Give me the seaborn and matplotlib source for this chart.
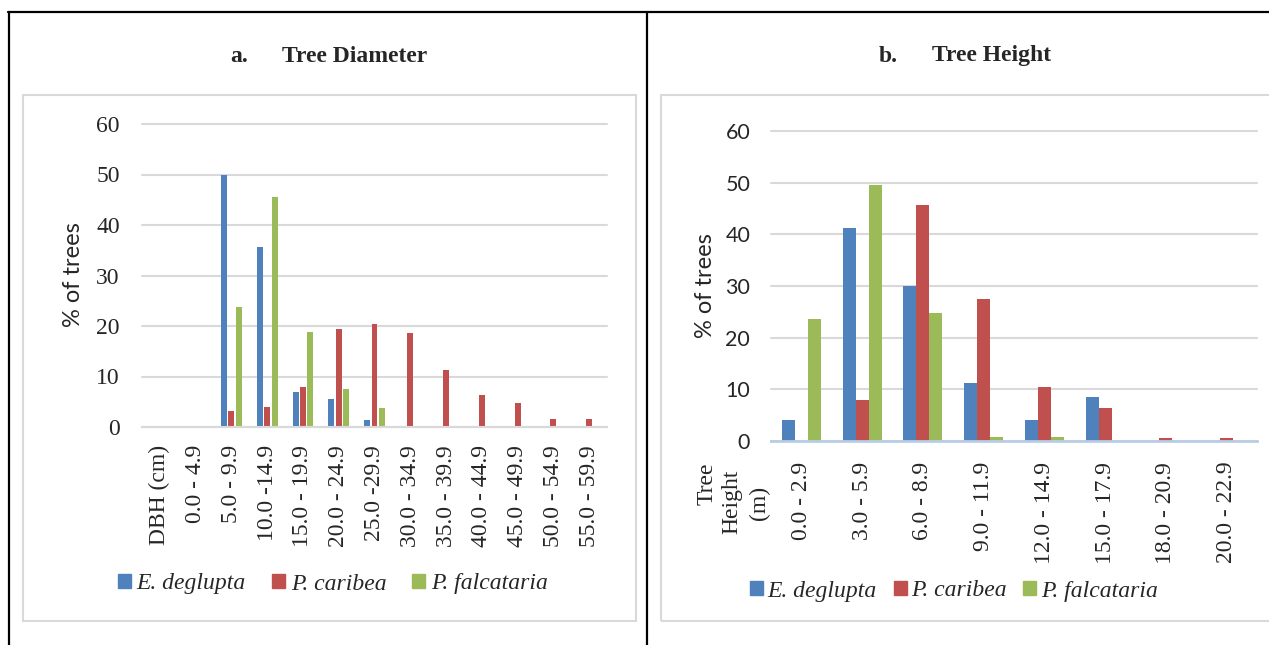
import pandas as pd
import matplotlib.pyplot as plt
import seaborn as sns
from matplotlib.patches import Patch, Rectangle
from matplotlib.lines import Line2D

species = ["E. deglupta", "P. caribea", "P. falcataria"]
colors = ["#4F81BD", "#C0504D", "#9BBB59"]

# a. tree diameter (% of trees per DBH class)
dbh_classes = ["0.0 - 4.9", "5.0 - 9.9", "10.0 -14.9", "15.0 - 19.9", "20.0 - 24.9", "25.0 -29.9",
               "30.0 - 34.9", "35.0 - 39.9", "40.0 - 44.9", "45.0 - 49.9", "50.0 - 54.9", "55.0 - 59.9"]
dbh_deglupta = [0, 50.0, 35.6, 7.0, 5.6, 1.3, 0, 0, 0, 0, 0, 0]
dbh_caribea = [0, 3.2, 4.0, 8.0, 19.4, 20.3, 18.7, 11.3, 6.4, 4.8, 1.5, 1.5]
dbh_falcataria = [0, 23.7, 45.6, 18.9, 7.5, 3.7, 0, 0, 0, 0, 0, 0]

# b. tree height (% of trees per height class)
height_classes = ["0.0 - 2.9", "3.0 - 5.9", "6.0 - 8.9", "9.0 - 11.9", "12.0 - 14.9",
                  "15.0 - 17.9", "18.0 - 20.9", "20.0 - 22.9"]
ht_deglupta = [4.1, 41.3, 30.0, 11.2, 4.1, 8.5, 0, 0]
ht_caribea = [0, 7.9, 45.6, 27.5, 10.5, 6.4, 0.6, 0.6]
ht_falcataria = [23.7, 49.5, 24.7, 0.8, 0.8, 0, 0, 0]


def long_df(classes, a, b, c):
    rows = []
    for sp, vals in zip(species, [a, b, c]):
        for cl, v in zip(classes, vals):
            rows.append({"cls": cl, "species": sp, "pct": v})
    return pd.DataFrame(rows)


dbh = long_df(dbh_classes, dbh_deglupta, dbh_caribea, dbh_falcataria)
hts = long_df(height_classes, ht_deglupta, ht_caribea, ht_falcataria)

sns.set_style("white")
plt.rcParams['font.family'] = ['Liberation Serif', 'DejaVu Sans']
SERIF = 'Liberation Serif'
SANS = 'Lato'
W, H = 1269, 645

fig = plt.figure(figsize=(W / 100, H / 100), dpi=100)


def fx(px):
    return px / W


def fy(py):
    return 1 - py / H


# table borders and chart boxes
for x0, y0, x1, y1 in [(8, 12, 1269, 12), (9, 12, 9, 645), (647, 12, 647, 645)]:
    fig.add_artist(Line2D([fx(x0), fx(x1)], [fy(y0), fy(y1)], color="black", lw=1.6,
                          transform=fig.transFigure))
for x0, x1 in [(23, 636), (661, 1280)]:
    fig.add_artist(Rectangle((fx(x0), fy(621)), fx(x1) - fx(x0), fy(95) - fy(621), fill=False,
                             edgecolor="#D9D9D9", lw=1.5, transform=fig.transFigure))

# titles
fig.text(fx(239), fy(56), "a.", fontweight="bold", fontsize=17, family=SERIF, ha="center", va="center")
fig.text(fx(282), fy(56), "Tree Diameter", fontweight="bold", fontsize=17, family=SERIF, ha="left", va="center")
fig.text(fx(888), fy(56), "b.", fontweight="bold", fontsize=17, family=SERIF, ha="center", va="center")
fig.text(fx(932), fy(56), "Tree Height", fontweight="bold", fontsize=17, family=SERIF, ha="left", va="center")

# %% a. diameter
ax1 = fig.add_axes([fx(142), fy(427), fx(607) - fx(142), fy(124) - fy(427)])
sns.barplot(data=dbh, x="cls", y="pct", hue="species", order=["DBH (cm)"] + dbh_classes,
            hue_order=species, palette=colors, saturation=1, width=0.62, gap=0.2,
            linewidth=0, legend=False, ax=ax1)
ax1.set_ylim(0, 60)
ax1.set_yticks(range(0, 61, 10))
ax1.set_xlabel("")
ax1.set_ylabel("")
for s in ["top", "left", "right"]:
    ax1.spines[s].set_visible(False)
ax1.spines["bottom"].set_color("#D9D9D9")
ax1.spines["bottom"].set_linewidth(1.5)
ax1.yaxis.grid(True, color="#D9D9D9", lw=1.5)
ax1.set_axisbelow(True)
ax1.tick_params(axis="x", length=0, pad=13, labelrotation=90)
ax1.tick_params(axis="y", length=0, pad=16)
for lab in ax1.get_xticklabels() + ax1.get_yticklabels():
    lab.set_fontfamily(SERIF)
    lab.set_fontsize(17)
fig.text(fx(74), fy(275), "% of trees", rotation=90, family=SANS, fontsize=17, ha="center", va="center")

fig.legend(handles=[Patch(color=c, label=s) for c, s in zip(colors, species)],
           loc="center", bbox_to_anchor=(fx(333), fy(584)), ncol=3, frameon=False,
           prop={"family": SERIF, "style": "italic", "size": 17},
           handlelength=0.55, handleheight=0.55, handletextpad=0.25, columnspacing=1.1)

# %% b. height
ax2 = fig.add_axes([fx(771), fy(441), fx(1257) - fx(771), fy(131) - fy(441)])
sns.barplot(data=hts, x="cls", y="pct", hue="species", order=height_classes,
            hue_order=species, palette=colors, saturation=1, width=0.64,
            linewidth=0, legend=False, ax=ax2)
ax2.set_ylim(0, 60)
ax2.set_yticks(range(0, 61, 10))
ax2.set_xlabel("")
ax2.set_ylabel("")
for s in ["top", "left", "right"]:
    ax2.spines[s].set_visible(False)
ax2.spines["bottom"].set_color("#B9CDE5")
ax2.spines["bottom"].set_linewidth(2)
ax2.yaxis.grid(True, color="#D9D9D9", lw=1.5)
ax2.set_axisbelow(True)
ax2.set_xticks([i - 0.5 for i in range(len(height_classes) + 1)], minor=True)
ax2.tick_params(axis="x", which="minor", length=6, width=1.5, color="#B9CDE5")
ax2.tick_params(axis="x", which="major", length=0, pad=15, labelrotation=90)
ax2.tick_params(axis="y", length=0, pad=15)
for lab in ax2.get_xticklabels():
    lab.set_fontfamily(SERIF)
    lab.set_fontsize(17)
for lab in ax2.get_yticklabels():
    lab.set_fontfamily(SANS)
    lab.set_fontsize(15.5)
fig.text(fx(705), fy(286), "% of trees", rotation=90, family=SANS, fontsize=17, ha="center", va="center")
fig.text(fx(707), fy(484), "Tree", rotation=90, family=SERIF, fontsize=17, ha="center", va="center")
fig.text(fx(732), fy(502), "Height", rotation=90, family=SERIF, fontsize=17, ha="center", va="center")
fig.text(fx(759), fy(503), "(m)", rotation=90, family=SERIF, fontsize=17, ha="center", va="center")

fig.legend(handles=[Patch(color=c, label=s) for c, s in zip(colors, species)],
           loc="center", bbox_to_anchor=(fx(954), fy(591)), ncol=3, frameon=False,
           prop={"family": SERIF, "style": "italic", "size": 17},
           handlelength=0.55, handleheight=0.55, handletextpad=0.2, columnspacing=0.7)

for ax in (ax1, ax2):
    for gl in ax.get_ygridlines():
        gl.set_clip_on(False)

fig.savefig("out.png", dpi=100)
